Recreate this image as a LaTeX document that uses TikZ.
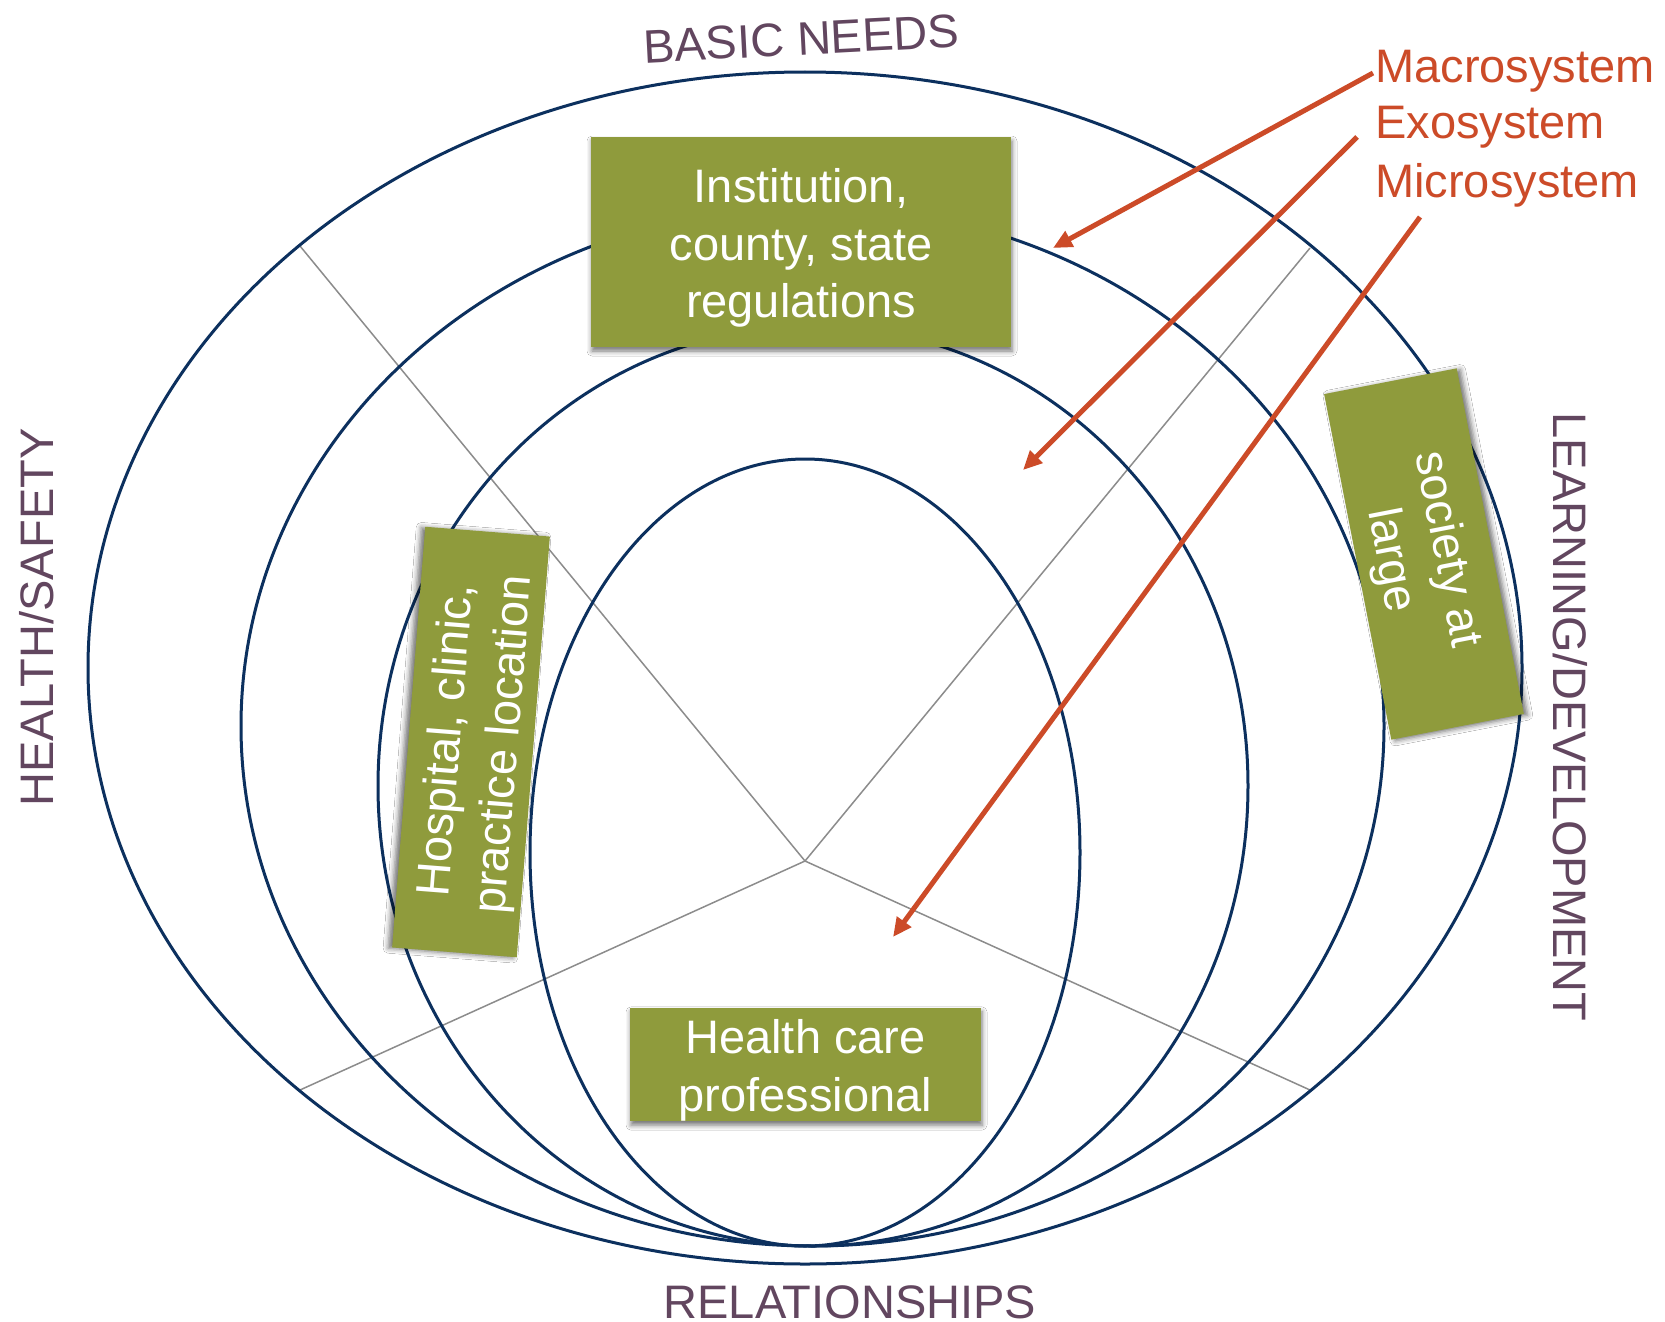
\documentclass[tikz,border=0pt]{standalone}
\usepackage{fontspec}
\setmainfont{Liberation Sans}
\usetikzlibrary{arrows.meta,shadows.blur}
\definecolor{ringblue}{RGB}{12,48,94}
\definecolor{boxgreen}{RGB}{143,155,60}
\definecolor{arrowred}{RGB}{204,75,40}
\definecolor{plum}{RGB}{98,70,95}
\definecolor{spokegray}{RGB}{140,140,140}
\newcommand{\toppad}{\rule{0pt}{46pt}}
\begin{document}
\begin{tikzpicture}[x=1pt,y=-1pt,
  ring/.style={draw=ringblue,line width=3pt},
  spokeline/.style={draw=spokegray,line width=1.5pt},
  pointer/.style={draw=arrowred,line width=5pt,-{Triangle[length=19pt,width=17pt]}},
  greenbox/.style={fill=boxgreen,text=white,inner sep=0pt,align=center,
    font=\fontsize{47}{57.5}\selectfont},
  boxshade/.style 2 args={blur shadow={shadow xshift=#1,shadow yshift=#2,
    shadow blur radius=5pt,shadow opacity=55}},
  dimlabel/.style={text=plum,font=\fontsize{47}{56}\selectfont,inner sep=0pt,anchor=base},
  syslabel/.style={text=arrowred,font=\fontsize{47}{56}\selectfont,inner sep=0pt,anchor=base west}]
\useasboundingbox (0,0) rectangle (1665,1322);
\fill[white] (0,0) rectangle (1665,1322);

% spokes
\coordinate (hub) at (805,861);
\coordinate (sNW) at (300,246);
\coordinate (sNE) at (1310,248);
\coordinate (sSW) at (300,1090);
\coordinate (sSE) at (1310,1090);
\draw[spokeline] (hub) -- (sNW);
\draw[spokeline] (hub) -- (sNE);
\draw[spokeline] (hub) -- (sSW);
\draw[spokeline] (hub) -- (sSE);

% rings
\draw[ring] (805,668) ellipse [x radius=717pt, y radius=596pt];
\draw[ring] (812.5,726) ellipse [x radius=571.5pt, y radius=520pt];
\draw[ring] (813,786) ellipse [x radius=435pt, y radius=460pt];
\draw[ring] (805,852.5) ellipse [x radius=275pt, y radius=393.5pt];

% boxes
\node[greenbox, boxshade={1pt}{-4pt}, minimum width=420pt, minimum height=210pt] (inst) at (801,242)
  {\toppad Institution,\\county, state\\regulations};
\node[greenbox, boxshade={1pt}{-4pt}, minimum width=351pt, minimum height=111pt] (hcp) at (805.5,1064.5)
  {\toppad Health care\\professional};
\node[greenbox, boxshade={-4pt}{-0.7pt}, minimum width=422pt, minimum height=125pt, rotate=85.5] (hosp) at (471,742)
  {\toppad Hospital, clinic,\\practice location};
\node[greenbox, boxshade={3.8pt}{-1.2pt}, minimum width=352pt, minimum height=135pt, rotate=-79] (soc) at (1424,554)
  {\toppad society at\\large};

% dimension labels
\node[dimlabel, rotate=3] (basic) at (802,55) {BASIC NEEDS};
\node[dimlabel] (relations) at (850,1318) {RELATIONSHIPS};
\node[dimlabel, rotate=90] (health) at (53,617.5) {HEALTH/SAFETY};
\node[dimlabel, rotate=-90] (learning) at (1553,717) {LEARNING/DEVELOPMENT};

% system labels
\node[syslabel] (macro) at (1375,82) {Macrosystem};
\node[syslabel] (exo) at (1375,138) {Exosystem};
\node[syslabel] (micro) at (1375,197) {Microsystem};

% pointers
\coordinate (macroFrom) at (1373,73);
\coordinate (macroTo) at (1053,248);
\coordinate (exoFrom) at (1357,137);
\coordinate (exoTo) at (1023,470);
\coordinate (microFrom) at (1420,217);
\coordinate (microTo) at (893,937);
\draw[pointer] (macroFrom) -- (macroTo);
\draw[pointer] (exoFrom) -- (exoTo);
\draw[pointer] (microFrom) -- (microTo);
\end{tikzpicture}
\end{document}
